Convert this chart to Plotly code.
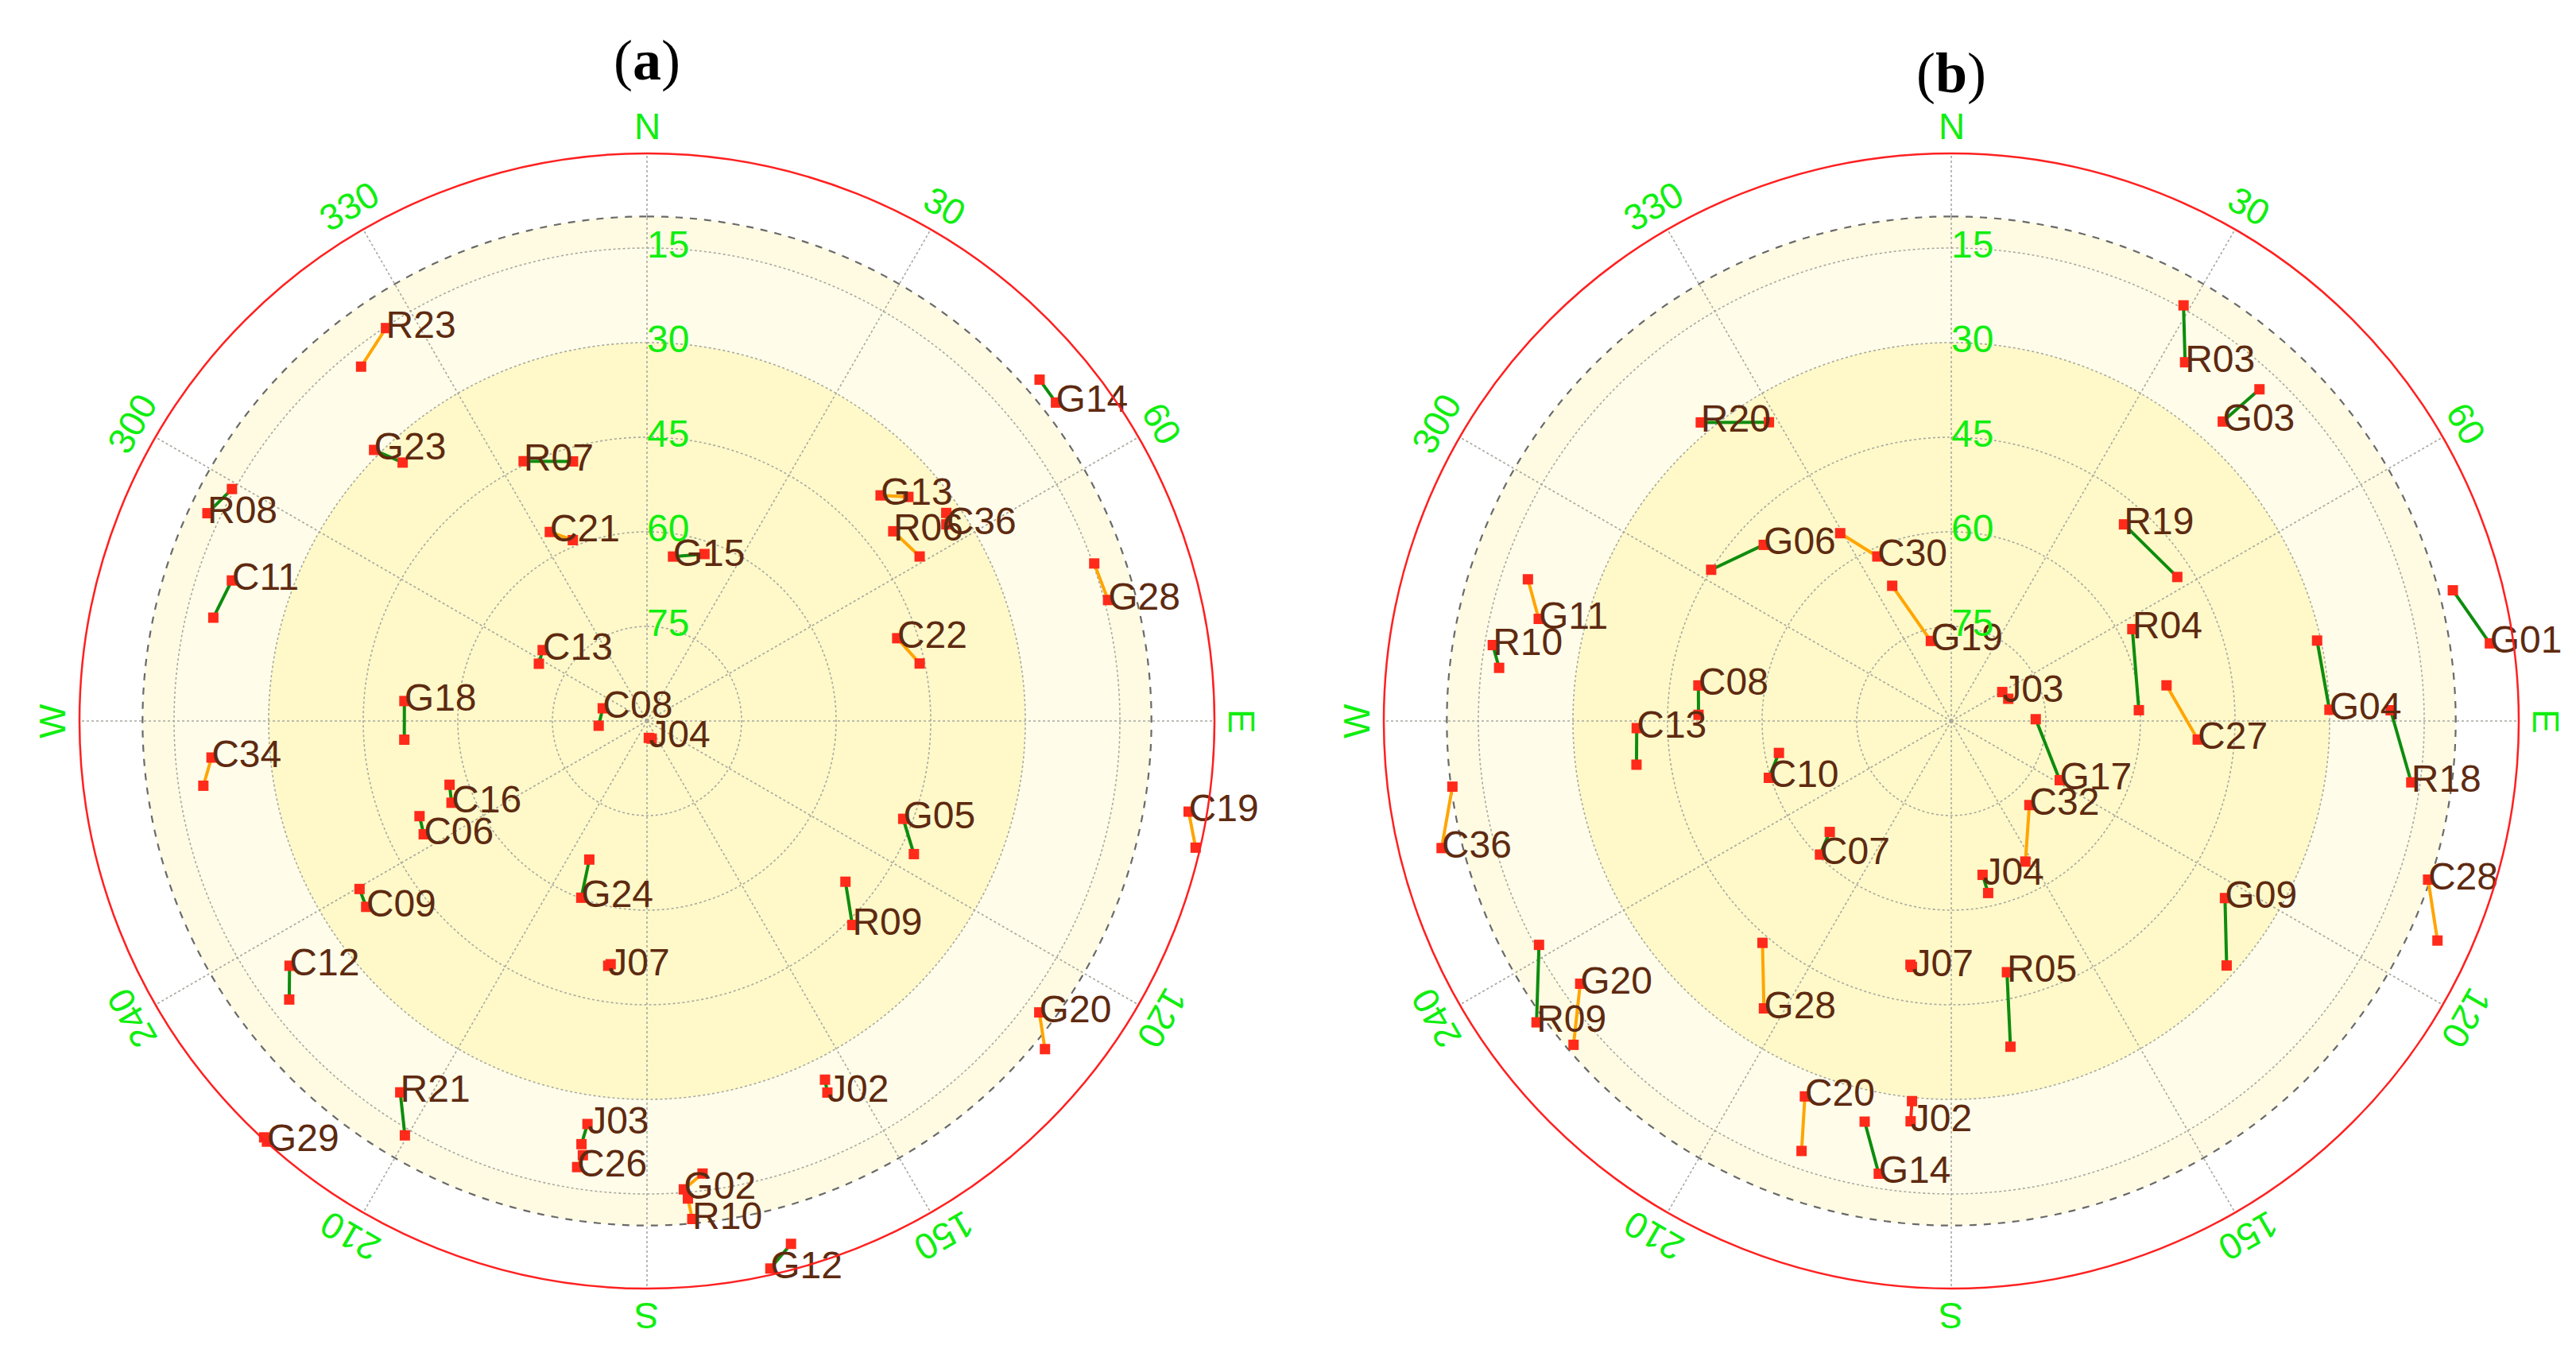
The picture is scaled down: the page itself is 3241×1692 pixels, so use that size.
import numpy as np
import plotly.graph_objects as go

W, H = 3241, 1692

# ---------------- data (azimuth deg, elevation deg); label drawn at point 2 ----------------
A_SAT = ["R23", "G14", "G23", "R07", "R08", "C11", "C21", "G15", "G13", "R06", "C36", "G28",
         "C22", "C13", "C08", "J04", "G18", "C34", "C16", "C06", "G05", "C19", "G24", "C09",
         "R09", "C12", "J07", "G20", "J02", "R21", "G29", "J03", "C26", "G02", "R10", "G12"]
A_AZ1 = [321.1, 49.0, 316.6, 344.1, 299.2, 283.4, 337.7, 19.0, 49.4, 58.9, 55.2, 70.6,
         78.1, 297.9, 264.4, 165.0, 265.6, 261.7, 252.1, 247.3, 116.5, 103.0, 202.6, 239.7,
         129.0, 232.1, 188.5, 129.5, 153.6, 210.3, 222.6, 188.8, 188.4, 173.0, 175.1, 164.6]
A_EL1 = [17.8, 7.5, 33.6, 47.2, 14.6, 19.3, 59.0, 62.0, 35.4, 39.5, 32.2, 14.8,
         45.8, 70.6, 82.3, 87.1, 51.4, 18.9, 57.1, 50.9, 42.7, 0.7, 66.2, 37.2,
         49.5, 18.1, 51.0, 8.2, 26.5, 13.9, 0.3, 22.1, 20.4, 17.7, 14.0, 4.0]
A_AZ2 = [326.4, 52.1, 314.8, 334.6, 295.3, 288.7, 332.8, 9.0, 46.0, 52.4, 56.7, 75.3,
         71.7, 304.2, 286.0, 173.8, 274.7, 265.2, 247.3, 243.1, 110.9, 99.5, 200.4, 236.5,
         134.8, 235.6, 189.0, 126.6, 154.1, 213.6, 222.1, 188.4, 188.9, 175.5, 174.8, 167.3]
A_EL2 = [15.2, 7.8, 29.0, 44.4, 12.9, 20.5, 56.3, 63.6, 38.5, 40.7, 33.2, 14.4,
         48.2, 70.0, 82.7, 87.3, 51.4, 20.7, 56.4, 50.3, 46.5, 2.9, 60.1, 36.6,
         44.1, 21.3, 50.7, 12.5, 24.5, 19.3, 0.1, 25.4, 18.4, 15.5, 10.7, 1.0]
A_COL = ["o", "g", "g", "g", "g", "g", "o", "g", "o", "o", "o", "o",
         "o", "g", "g", "g", "g", "o", "g", "g", "g", "o", "g", "g",
         "g", "g", "g", "o", "g", "g", "r", "g", "o", "o", "o", "g"]

B_SAT = ["R03", "G03", "R20", "G01", "R19", "G06", "C30", "G19", "G11", "R10", "R04", "J03",
         "C08", "C27", "G04", "R18", "C13", "G17", "C10", "C36", "C32", "C07", "J04", "C28",
         "G09", "R09", "G20", "G28", "J07", "R05", "C20", "G14", "J02"]
B_AZ1 = [29.2, 42.9, 328.6, 75.4, 57.5, 302.2, 329.4, 336.4, 288.5, 276.7, 86.7, 68.7,
         271.4, 80.6, 77.6, 88.6, 262.1, 88.8, 259.5, 262.5, 152.2, 227.6, 167.9, 114.3,
         131.6, 241.5, 229.4, 220.4, 189.5, 169.7, 199.2, 192.2, 185.9]
B_EL1 = [14.5, 18.2, 34.5, 7.8, 47.5, 45.0, 55.4, 66.6, 19.2, 17.8, 60.2, 80.3,
         49.9, 55.4, 30.6, 20.3, 39.6, 76.6, 62.2, 10.2, 64.8, 63.9, 62.1, 5.4,
         31.6, 15.6, 11.1, 43.8, 50.8, 37.5, 17.8, 25.0, 29.4]
B_AZ2 = [33.1, 42.2, 320.0, 81.8, 41.3, 313.2, 335.8, 345.7, 283.9, 279.4, 63.1, 60.4,
         278.0, 94.3, 88.3, 97.6, 268.7, 118.6, 252.7, 256.0, 137.1, 224.5, 168.5, 108.4,
         122.9, 234.0, 234.7, 213.1, 189.1, 167.5, 201.3, 189.1, 185.8]
B_EL2 = [22.1, 25.9, 28.2, 3.7, 48.5, 49.2, 61.4, 76.9, 22.6, 16.3, 57.8, 80.7,
         49.5, 50.8, 30.0, 16.4, 40.1, 70.4, 59.7, 6.7, 71.8, 60.3, 65.1, 10.3,
         38.3, 8.7, 17.9, 35.6, 50.5, 49.2, 26.1, 17.3, 26.2]
B_COL = ["g", "g", "g", "g", "g", "g", "o", "o", "o", "g", "g", "g",
         "g", "o", "g", "g", "g", "g", "g", "o", "o", "g", "g", "o",
         "g", "g", "o", "o", "g", "g", "o", "g", "r"]

RING_EL = [15, 30, 45, 60, 75]
RING_TXT = ["15", "30", "45", "60", "75"]
AZ_TICKS = [0, 30, 60, 90, 120, 150, 180, 210, 240, 270, 300, 330]
AZ_TXT = ["N", "30", "60", "E", "120", "150", "S", "210", "240", "W", "300", "330"]
MASK_EL = 10
BAND_EL = [10, 15, 30]
BAND_COL = ["#FFFBE3", "#FFFDEA", "#FFF9C9"]
TITLES = ["(<b>a</b>)", "(<b>b</b>)"]

# ---------------- styling / geometry ----------------
R_PX = 714
CENTERS = [(806, 899), (2447, 899)]
TITLE_Y = [68, 84]
GREEN_TXT = "#10EE10"
LABEL_COL = "#5E2A10"
LINE_COL = {"g": "#0E8C0E", "o": "#FFA500", "r": "#FF2A1A"}
FONT = "Liberation Sans, Arial, sans-serif"


def r_of(el):
    return [90 - e for e in el]


fig = go.Figure()

panels = [
    (A_SAT, A_AZ1, A_EL1, A_AZ2, A_EL2, A_COL),
    (B_SAT, B_AZ1, B_EL1, B_AZ2, B_EL2, B_COL),
]

circ = np.linspace(0, 360, 721)

for k, (sat, az1, el1, az2, el2, col) in enumerate(panels):
    sp = "polar" if k == 0 else "polar2"
    # shaded bands
    for el_b, c in zip(BAND_EL, BAND_COL):
        fig.add_trace(go.Barpolar(r=[90 - el_b], theta=[0], width=[360], base=0,
                                  marker=dict(color=c, line=dict(width=0)),
                                  subplot=sp, showlegend=False, hoverinfo="skip"))
    # grid circles
    for e in RING_EL:
        fig.add_trace(go.Scatterpolar(r=[90 - e] * len(circ), theta=circ, mode="lines",
                                      line=dict(color="#A8A8A0", width=1.6, dash="dot"),
                                      subplot=sp, showlegend=False, hoverinfo="skip"))
    # spokes
    for a in AZ_TICKS:
        fig.add_trace(go.Scatterpolar(r=[0, 90], theta=[a, a], mode="lines",
                                      line=dict(color="#A8A8A0", width=1.6, dash="dot"),
                                      subplot=sp, showlegend=False, hoverinfo="skip"))
    # elevation mask circle
    fig.add_trace(go.Scatterpolar(r=[90 - MASK_EL] * len(circ), theta=circ, mode="lines",
                                  line=dict(color="#6A6A6A", width=2.2, dash="dash"),
                                  subplot=sp, showlegend=False, hoverinfo="skip"))
    # satellite tracks
    for i in range(len(sat)):
        fig.add_trace(go.Scatterpolar(r=r_of([el1[i], el2[i]]), theta=[az1[i], az2[i]],
                                      mode="lines", line=dict(color=LINE_COL[col[i]], width=4),
                                      subplot=sp, showlegend=False, hoverinfo="skip"))
    fig.add_trace(go.Scatterpolar(r=r_of(el1) + r_of(el2), theta=az1 + az2, mode="markers",
                                  marker=dict(symbol="square", size=13, color="#FF2A1A"),
                                  subplot=sp, showlegend=False, hoverinfo="skip"))
    fig.add_trace(go.Scatterpolar(r=r_of(el2), theta=az2, mode="text", text=sat,
                                  textposition="middle right",
                                  textfont=dict(family=FONT, size=48, color=LABEL_COL),
                                  subplot=sp, showlegend=False, hoverinfo="skip"))
    # elevation ring labels
    fig.add_trace(go.Scatterpolar(r=r_of(RING_EL), theta=[0] * len(RING_EL), mode="text",
                                  text=RING_TXT, textposition="middle right",
                                  textfont=dict(family=FONT, size=48, color=GREEN_TXT),
                                  subplot=sp, showlegend=False, hoverinfo="skip"))

    cx, cy = CENTERS[k]
    dom = dict(x=[(cx - R_PX) / W, (cx + R_PX) / W],
               y=[(H - cy - R_PX) / H, (H - cy + R_PX) / H])
    fig.update_layout(**{sp: dict(
        domain=dom, bgcolor="rgba(0,0,0,0)", barmode="overlay",
        radialaxis=dict(range=[0, 90], showgrid=False, showline=False, showticklabels=False,
                        ticks=""),
        angularaxis=dict(rotation=90, direction="clockwise", showgrid=False,
                         showticklabels=False, ticks="", showline=True,
                         linecolor="#FF2020", linewidth=2.5),
    )})

    # azimuth labels, rotated tangentially
    for a, t in zip(AZ_TICKS, AZ_TXT):
        rr = R_PX + 34
        x = (cx + rr * np.sin(np.radians(a))) / W
        y = (H - cy + rr * np.cos(np.radians(a))) / H
        ang = a if a <= 180 else a - 360
        fig.add_annotation(x=x, y=y, xref="paper", yref="paper", text=t, showarrow=False,
                           textangle=ang, xanchor="center", yanchor="middle",
                           font=dict(family=FONT, size=46, color=GREEN_TXT))
    fig.add_annotation(x=cx / W, y=1 - TITLE_Y[k] / H, xref="paper", yref="paper",
                       text=TITLES[k], showarrow=False, xanchor="center", yanchor="middle",
                       font=dict(family="Liberation Serif, Times New Roman, serif", size=72,
                                 color="black"))

fig.update_layout(width=W, height=H, margin=dict(l=0, r=0, t=0, b=0),
                  paper_bgcolor="white", plot_bgcolor="white", showlegend=False)

fig.write_html("out.html")
